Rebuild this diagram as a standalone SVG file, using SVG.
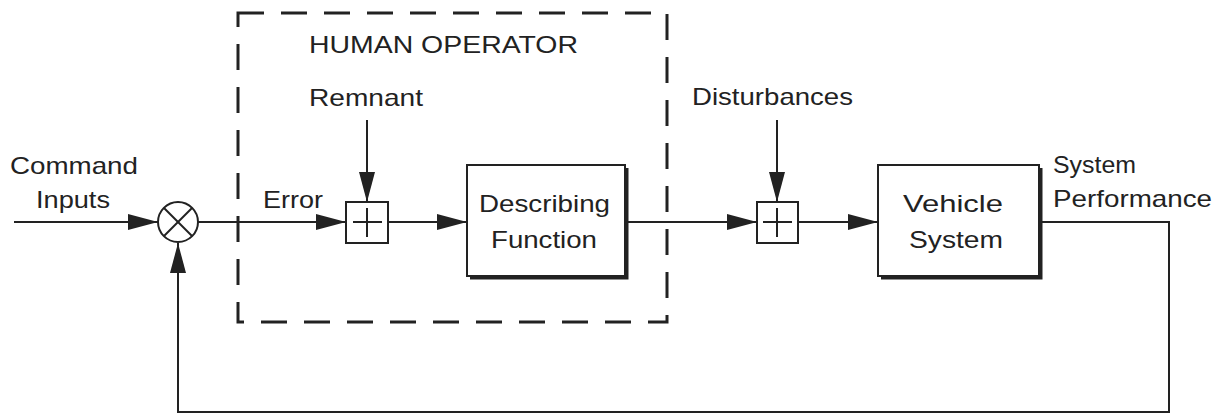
<svg xmlns="http://www.w3.org/2000/svg" width="1222" height="417" viewBox="0 0 1222 417">
<style>
.t{font-family:"Liberation Sans",Arial,Helvetica,sans-serif;font-size:24px;fill:#222;}
.ln{stroke:#222;stroke-width:2;fill:none;}
.box{stroke:#222;stroke-width:2;fill:#fff;}
.sh{stroke:#222;stroke-width:3;fill:none;}
.dash{stroke:#222;stroke-width:3;fill:none;stroke-dasharray:26 17;}
</style>
<defs>
<marker id="arr" viewBox="0 0 30 16" refX="30" refY="8" markerWidth="30" markerHeight="16" markerUnits="userSpaceOnUse" orient="auto">
<path d="M0,0 L30,8 L0,16 Z" fill="#222"/>
</marker>
</defs>
<rect width="1222" height="417" fill="#fff"/>
<g id="human-operator">
<rect class="dash" x="238" y="13" width="429" height="309"/>
<text class="t" x="309" y="53" textLength="269" lengthAdjust="spacingAndGlyphs">HUMAN OPERATOR</text>
</g>
<g id="connectors">
<line class="ln" x1="14" y1="222" x2="158" y2="222" marker-end="url(#arr)"/>
<line class="ln" x1="198" y1="222" x2="346" y2="222" marker-end="url(#arr)"/>
<line class="ln" x1="367" y1="120" x2="367" y2="202" marker-end="url(#arr)"/>
<line class="ln" x1="388" y1="222" x2="467" y2="222" marker-end="url(#arr)"/>
<line class="ln" x1="627" y1="222" x2="757" y2="222" marker-end="url(#arr)"/>
<line class="ln" x1="777" y1="120" x2="777" y2="202" marker-end="url(#arr)"/>
<line class="ln" x1="798" y1="222" x2="878" y2="222" marker-end="url(#arr)"/>
<polyline class="ln" points="1041,222 1169,222 1169,412 178,412 178,243" marker-end="url(#arr)"/>
</g>
<g id="command-inputs">
<text class="t" x="10" y="174" textLength="128" lengthAdjust="spacingAndGlyphs">Command</text>
<text class="t" x="36" y="208" textLength="74" lengthAdjust="spacingAndGlyphs">Inputs</text>
</g>
<g id="summing-junction">
<circle class="box" cx="178" cy="222" r="20"/>
<line class="ln" x1="164" y1="208" x2="192" y2="236"/>
<line class="ln" x1="192" y1="208" x2="164" y2="236"/>
</g>
<g id="error-label">
<text class="t" x="263" y="208" textLength="60" lengthAdjust="spacingAndGlyphs">Error</text>
</g>
<g id="remnant-sum">
<text class="t" x="309" y="106" textLength="114" lengthAdjust="spacingAndGlyphs">Remnant</text>
<rect class="box" x="346" y="202" width="42" height="41"/>
<line class="ln" x1="353" y1="222" x2="382" y2="222"/>
<line class="ln" x1="367" y1="208" x2="367" y2="237"/>
</g>
<g id="describing-function">
<rect class="box" x="467" y="165" width="158" height="111"/>
<polyline class="sh" points="627,168 627,278 470,278"/>
<text class="t" x="479" y="212" textLength="131" lengthAdjust="spacingAndGlyphs">Describing</text>
<text class="t" x="491" y="248" textLength="106" lengthAdjust="spacingAndGlyphs">Function</text>
</g>
<g id="disturbance-sum">
<text class="t" x="692" y="105" textLength="161" lengthAdjust="spacingAndGlyphs">Disturbances</text>
<rect class="box" x="757" y="202" width="41" height="41"/>
<line class="ln" x1="763" y1="222" x2="792" y2="222"/>
<line class="ln" x1="777" y1="208" x2="777" y2="237"/>
</g>
<g id="vehicle-system">
<rect class="box" x="878" y="165" width="161" height="111"/>
<polyline class="sh" points="1041,168 1041,278 881,278"/>
<text class="t" x="903" y="212" textLength="100" lengthAdjust="spacingAndGlyphs">Vehicle</text>
<text class="t" x="909" y="248" textLength="94" lengthAdjust="spacingAndGlyphs">System</text>
</g>
<g id="system-performance">
<text class="t" x="1053" y="173" textLength="83" lengthAdjust="spacingAndGlyphs">System</text>
<text class="t" x="1053" y="207" textLength="159" lengthAdjust="spacingAndGlyphs">Performance</text>
</g>
</svg>
